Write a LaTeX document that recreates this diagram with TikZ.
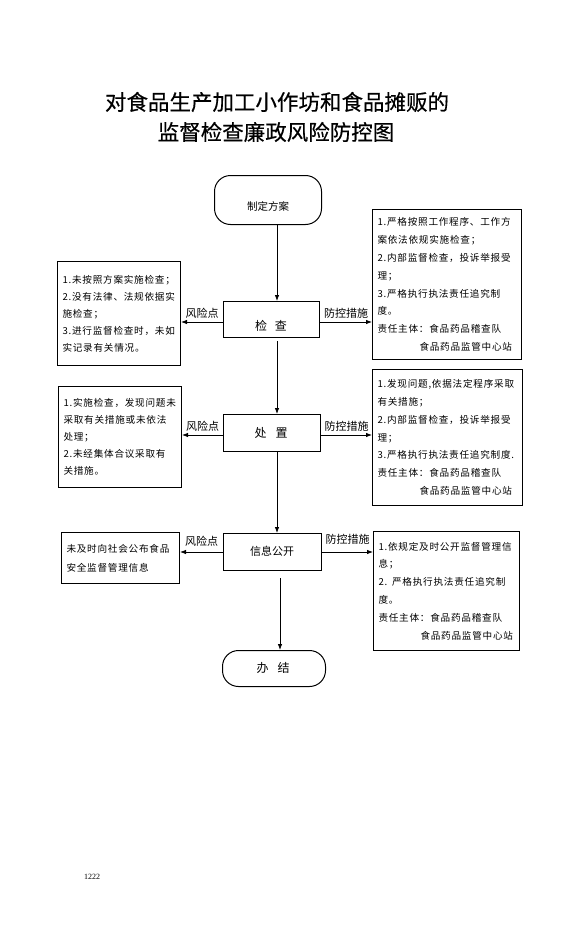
\documentclass[tikz,border=0pt]{standalone}
\usepackage{fontspec}
\setmainfont{Liberation Serif}
\newfontfamily\cjk{Noto Sans CJK SC}
\newfontfamily\cjksp[LetterSpace=8]{Noto Sans CJK SC}
\newfontfamily\cjkttl[FakeBold=0.4]{Noto Sans CJK SC}
\usetikzlibrary{arrows.meta}
\begin{document}
\begin{tikzpicture}[x=1pt,y=-1pt,
  box/.style={draw,line width=1pt,inner sep=0pt,anchor=north west},
  txtbox/.style={draw,line width=1pt,inner xsep=5pt,inner ysep=0pt,align=left,anchor=north west,
    font=\cjksp\fontsize{9.6}{17.8}\selectfont},
  ltxtbox/.style={txtbox,font=\cjksp\fontsize{9.6}{17}\selectfont},
  ctext/.style={font=\cjk\fontsize{12}{14}\selectfont,inner sep=0pt},
  arr/.style={-{Latex[length=6pt,width=4.5pt]},line width=0.8pt},
  lab/.style={font=\cjk\fontsize{11}{13}\selectfont,inner xsep=1pt,inner ysep=3pt},
  ttl/.style={font=\cjkttl\fontsize{21.5}{26}\selectfont,inner sep=0pt}]
\fill[white] (0,0) rectangle (576,939);
\useasboundingbox (0,0) rectangle (576,939);
% title
\node[ttl] (t1) at (277,102) {对食品生产加工小作坊和食品摊贩的};
\node[ttl] (t2) at (276,132) {监督检查廉政风险防控图};
% main flow
\node[box,rounded corners=16pt,minimum width=107pt,minimum height=49pt] (plan) at (214,175) {};
\node[ctext,font=\cjk\fontsize{10.5}{12}\selectfont] (plant) at (268,206) {制定方案};
\node[box,minimum width=96pt,minimum height=36pt] (check) at (223,301) {};
\node[ctext] (checkt) at (271,326) {检\hspace{8pt}查};
\node[box,minimum width=97pt,minimum height=37pt] (deal) at (223,414) {};
\node[ctext] (dealt) at (271,433) {处\hspace{9pt}置};
\node[box,minimum width=98pt,minimum height=37pt] (info) at (223,533) {};
\node[ctext,font=\cjk\fontsize{11}{13}\selectfont] (infot) at (272,551) {信息公开};
\node[box,rounded corners=16pt,minimum width=103pt,minimum height=36pt] (end) at (222,650) {};
\node[ctext] (endt) at (273,668) {办\hspace{9pt}结};
% side boxes
\node[ltxtbox,text width=113pt,minimum height=104pt] (lb1) at (57,261)
 {1.未按照方案实施检查；\\2.没有法律、法规依据实\\施检查；\\3.进行监督检查时，未如\\实记录有关情况。};
\node[txtbox,text width=139pt,minimum height=150pt] (rb1) at (372,209)
 {1.严格按照工作程序、工作方\\案依法依规实施检查；\\2.内部监督检查，投诉举报受\\理；\\3.严格执行执法责任追究制\\度。\\责任主体：食品药品稽查队\\\hspace*{42pt}食品药品监管中心站};
\node[ltxtbox,text width=113pt,minimum height=101pt] (lb2) at (58,386)
 {1.实施检查，发现问题未\\采取有关措施或未依法\\处理；\\2.未经集体合议采取有\\关措施。};
\node[txtbox,text width=140pt,minimum height=136pt] (rb2) at (372,369)
 {1.发现问题,依据法定程序采取\\有关措施；\\2.内部监督检查，投诉举报受\\理；\\3.严格执行执法责任追究制度.\\责任主体：食品药品稽查队\\\hspace*{42pt}食品药品监管中心站};
\node[ltxtbox,text width=108pt,minimum height=51pt,font=\cjksp\fontsize{9.6}{19}\selectfont] (lb3) at (61,532)
 {未及时向社会公布食品\\安全监督管理信息};
\node[txtbox,text width=136pt,minimum height=119pt] (rb3) at (373,531)
 {1.依规定及时公开监督管理信\\息；\\2. 严格执行执法责任追究制\\度。\\责任主体：食品药品稽查队\\\hspace*{42pt}食品药品监管中心站};
% vertical connectors
\coordinate (xa) at (277,0);
\coordinate (xb) at (280,0);
\draw[arr] (plan.south -| xa) -- (check.north -| xa);
\draw[arr,shorten <=3pt] (check.south -| xa) -- (deal.north -| xa);
\draw[arr] (deal.south -| xa) -- (info.north -| xa);
\draw[arr,shorten <=7pt] (info.south -| xb) -- (end.north -| xb);
% horizontal connectors
\coordinate (y1) at (0,322);
\coordinate (y2) at (0,435);
\coordinate (y3) at (0,552);
\draw[arr] (check.west |- y1) -- node[lab,above] (r1) {风险点} (lb1.east |- y1);
\draw[arr] (check.east |- y1) -- node[lab,above] (p1) {防控措施} (rb1.west |- y1);
\draw[arr] (deal.west |- y2) -- node[lab,above] (r2) {风险点} (lb2.east |- y2);
\draw[arr] (deal.east |- y2) -- node[lab,above] (p2) {防控措施} (rb2.west |- y2);
\draw[arr] (info.west |- y3) -- node[lab,above,yshift=2pt] (r3) {风险点} (lb3.east |- y3);
\draw[arr] (info.east |- y3) -- node[lab,above,yshift=4pt] (p3) {防控措施} (rb3.west |- y3);
% page number
\node[font=\fontsize{8}{9}\selectfont,inner sep=0pt] (pg) at (92,877) {1222};
\end{tikzpicture}
\end{document}
